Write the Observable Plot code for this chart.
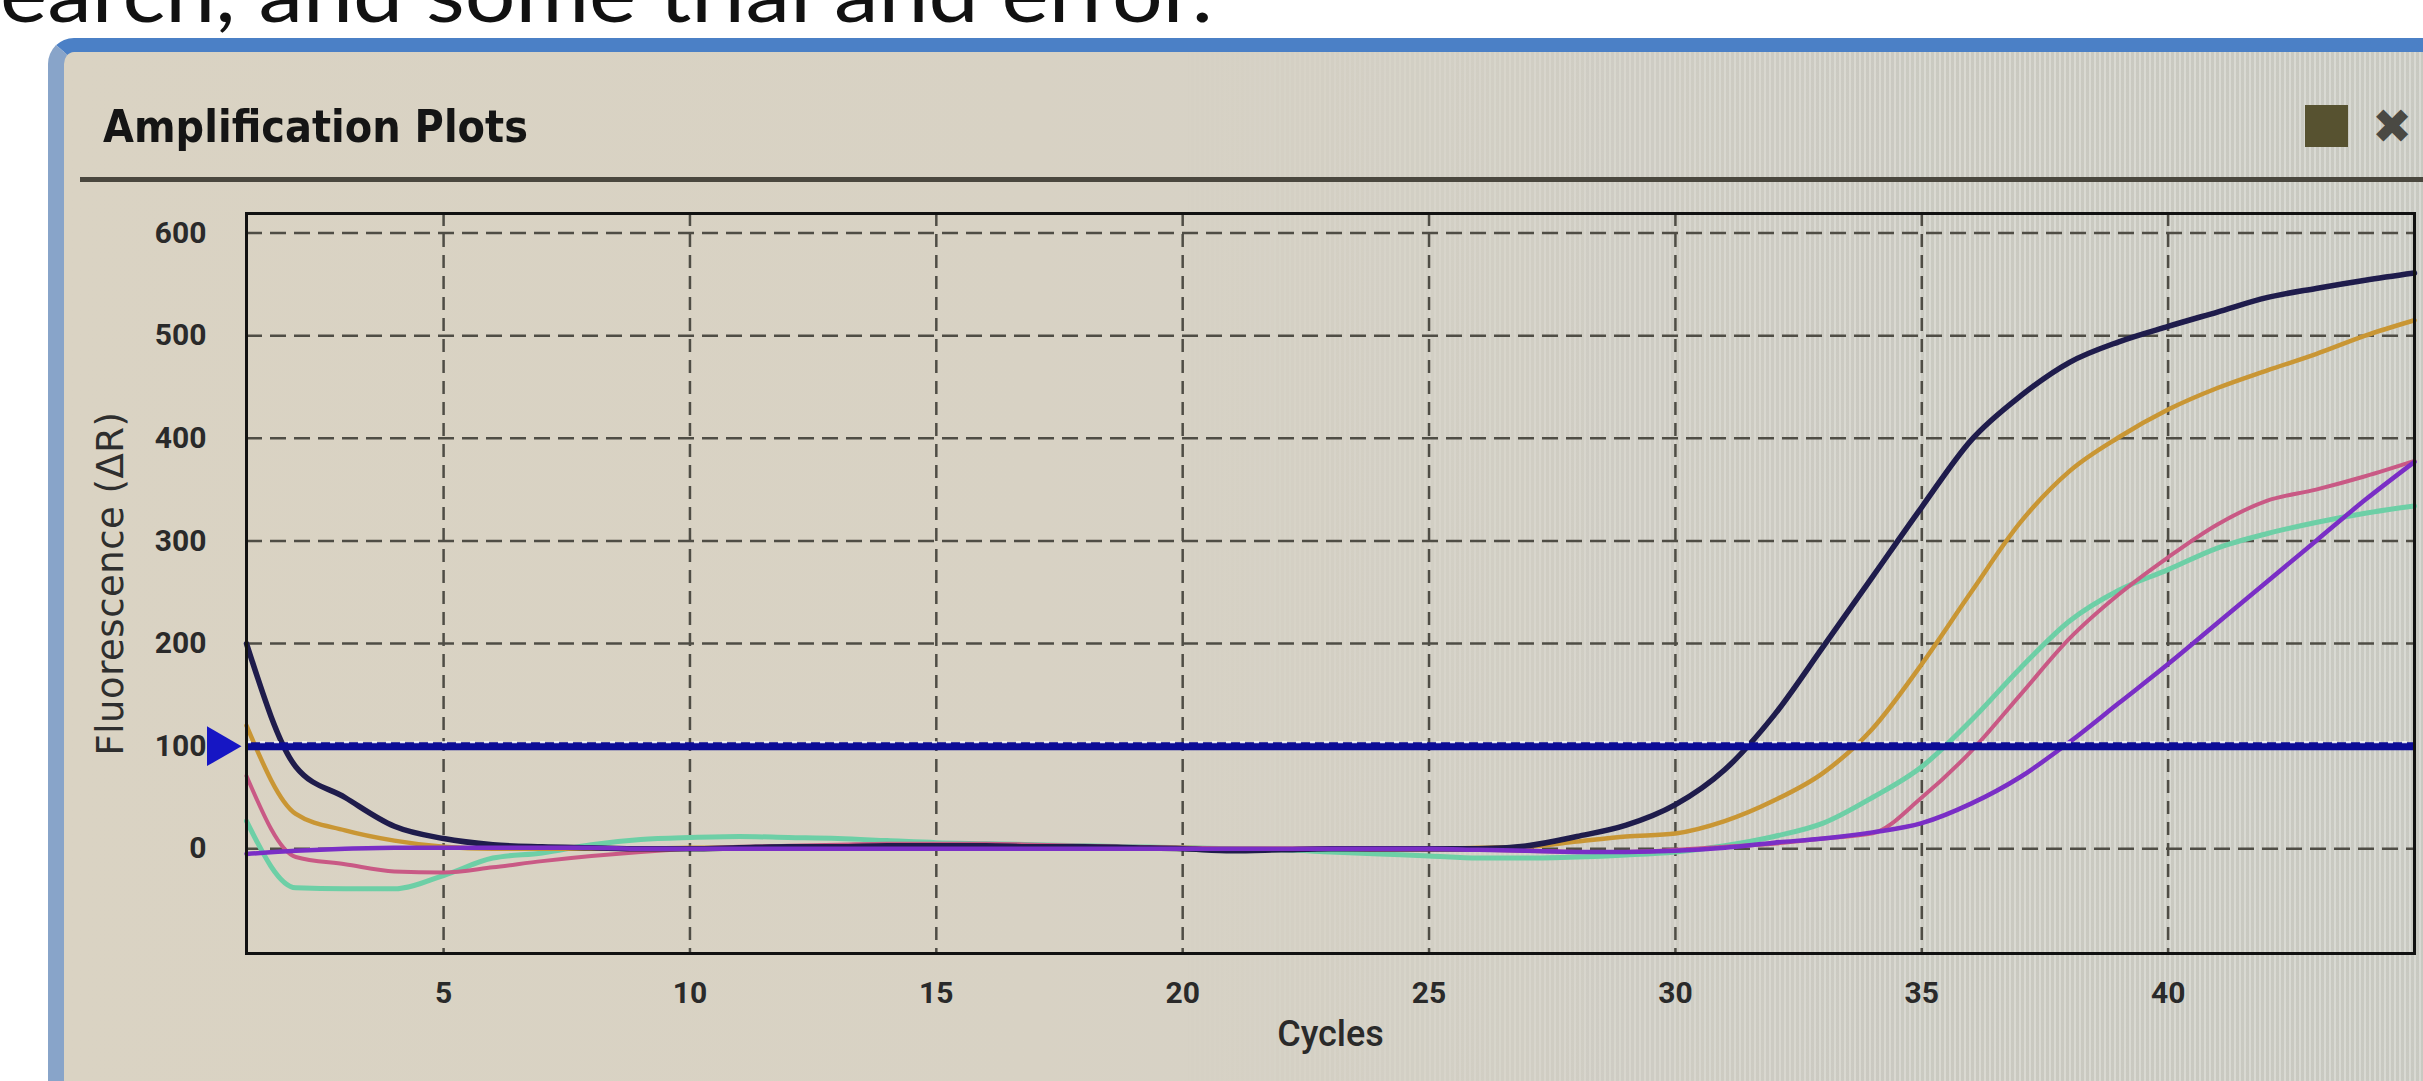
<!DOCTYPE html>
<html>
<head>
<meta charset="utf-8">
<script src="https://cdn.jsdelivr.net/npm/d3@7"></script>
<script src="https://cdn.jsdelivr.net/npm/@observablehq/plot@0.6"></script>
<style>
html,body{margin:0;padding:0;width:2423px;height:1081px;overflow:hidden;background:#fff;}
#page{position:relative;width:2423px;height:1081px;overflow:hidden;background:#fff;}
#slide{position:absolute;left:0px;top:-49px;font-family:Lato,"Open Sans",sans-serif;font-size:80px;line-height:80px;color:#111;white-space:nowrap;transform-origin:left top;}
#win{position:absolute;left:48px;top:38px;width:2450px;height:1100px;box-sizing:border-box;border-top:14px solid #4b80c6;border-left:16px solid #88a4c9;border-top-left-radius:26px;background:linear-gradient(90deg,#dad3c3 0%,#d8d2c4 40%,#d4d2c9 65%,#d1d2cb 100%);}
#stripes{position:absolute;left:64px;top:52px;width:2400px;height:1100px;background:repeating-linear-gradient(90deg,rgba(255,255,255,0.16) 0px,rgba(255,255,255,0.16) 2px,rgba(90,90,80,0.07) 2px,rgba(90,90,80,0.07) 5px);-webkit-mask-image:linear-gradient(90deg,transparent 0px,transparent 1100px,black 1900px);mask-image:linear-gradient(90deg,transparent 0px,transparent 1100px,black 1900px);}
#title{position:absolute;left:103px;top:105px;font-family:"DejaVu Sans",sans-serif;font-weight:bold;font-size:44px;line-height:44px;color:#151515;white-space:nowrap;transform-origin:left top;}
#sep{position:absolute;left:80px;top:177px;width:2400px;height:5px;background:#4a473e;}
#sq{position:absolute;left:2305px;top:105px;width:43px;height:42px;background:#575230;}
#xbtn{position:absolute;left:2372px;top:98px;font-family:"DejaVu Sans",sans-serif;font-weight:bold;font-size:48px;line-height:56px;color:#4a4943;}
#chart{position:absolute;left:0;top:0;}
#chart g[aria-label="x-axis label"] text{font-family:Roboto,sans-serif;font-size:36px;font-weight:500;}
#chart g[aria-label="y-axis label"] text{font-family:"DejaVu Sans",sans-serif;font-size:37px;font-weight:normal;letter-spacing:0.5px;fill:#2e2e2e;}
</style>
</head>
<body>
<div id="page">
  <div id="slide">earch, and some trial and error.</div>
  <div id="win"></div>
  <div id="stripes"></div>
  <div id="title">Amplification Plots</div>
  <div id="sep"></div>
  <div id="sq"></div>
  <div id="xbtn">✖</div>
  <div id="chart"></div>
</div>
<script>
// ---- data ----
const cycles = [1,2,3,4,5,6,7,8,9,10,11,12,13,14,15,16,17,18,19,20,21,22,23,24,25,26,27,28,29,30,31,32,33,34,35,36,37,38,39,40,41,42,43,44,45];
const xTicks = [5,10,15,20,25,30,35,40];
const yTicks = [0,100,200,300,400,500,600];
const threshold = 100;

const navy   = [200,80,50,22,10,4,2,1,0,0, 1,2,2,3,3,3,2,2,1,0, -2,-1,0,0,0,0,3,12,23,43, 77,130,197,265,333,398,441,474,494,509, 523,537,546,554,561];
const orange = [120,34,18,8,2,0,0,0,0,1, 1,2,2,2,2,2,2,1,1,1, 0,0,0,0,0,1,2,7,12,15, 27,47,74,117,180,250,318,368,401,428, 449,466,482,500,515];
const teal   = [27,-38,-39,-39,-26,-9,-4,4,9,11, 12,11,10,8,6,5,4,3,2,1, 0,-1,-3,-5,-7,-9,-9,-8,-6,-3, 3,12,25,50,80,125,176,222,252,272, 293,307,318,327,334];
const pink   = [71,-8,-15,-22,-23,-18,-12,-7,-3,0, 2,3,4,5,5,5,4,3,2,1, 0,0,0,-1,-1,-1,-2,-3,-3,-1, 2,5,10,15,50,95,150,205,248,284, 316,339,350,363,378];
const purple = [-5,-2,0,1,1,1,1,1,0,0, 0,0,0,0,0,0,0,0,0,0, 0,0,0,0,0,-1,-2,-3,-3,-2, 1,6,10,16,25,44,70,104,142,180, 220,260,300,340,377];

const seriesNames  = ["teal","orange","pink","navy","purple"];
const seriesValues = [teal, orange, pink, navy, purple];
const seriesColors = ["#6dcfa6","#c99634","#c95985","#1f1c4c","#7a2ec6"];
const seriesWidths = [5, 4.5, 4, 5.5, 4.5];

function rowsFor(vals){ return cycles.map((c,i)=>({cycle:c, value:vals[i]})); }

const lineMarks = seriesNames.map((n,k)=>Plot.line(rowsFor(seriesValues[k]), {
  x:"cycle", y:"value", stroke: seriesColors[k], strokeWidth: seriesWidths[k],
  strokeLinejoin:"round", strokeLinecap:"round", curve:"monotone-x"
}));

const W = 2423, H = 1081;
const chart = Plot.plot({
  width: W, height: H,
  marginLeft: 246, marginRight: 9, marginTop: 213, marginBottom: H - 953,
  style: "background: transparent; overflow: visible; font-family: Roboto, sans-serif; font-size: 30px; font-weight: bold; color: #2a2a2a;",
  x: {domain:[1,45], ticks: xTicks, tickSize:0, tickPadding:28, label:"Cycles", labelAnchor:"center", labelOffset:92, labelArrow:false},
  y: {domain:[-102,619], ticks: yTicks, tickSize:0, tickPadding:40, label:"Fluorescence (ΔR)", labelAnchor:"center", labelOffset:150, labelArrow:false},
  marks: [
    Plot.ruleX(xTicks, {stroke:"#4f4d45", strokeWidth:2.5, strokeDasharray:"13,8"}),
    Plot.ruleY(yTicks, {stroke:"#4f4d45", strokeWidth:2.5, strokeDasharray:"16,8"}),
    ...lineMarks,
    Plot.ruleY([threshold], {stroke:"#0c0c96", strokeWidth:8}),
    Plot.ruleY([threshold], {stroke:"#ffffff", strokeWidth:2, strokeDasharray:"5,9", dy:-4, strokeOpacity:0.85}),
    Plot.frame({stroke:"#111", strokeWidth:3}),
    Plot.dot([{cycle: cycles[0], value: threshold}], {x:"cycle", y:"value", symbol:"triangle2", rotate:90, r:19, fill:"#1616c4", stroke:"none", dx:-28})
  ]
});
document.getElementById("chart").appendChild(chart);

function fit(id, target){
  const el = document.getElementById(id);
  el.style.transform = "none";
  const w = el.getBoundingClientRect().width;
  if (w > 0) el.style.transform = `scaleX(${target/w})`;
}
function fitAll(){ fit("title", 425); fit("slide", 1213); }
fitAll();
if (document.fonts && document.fonts.ready) document.fonts.ready.then(fitAll);
</script>
</body>
</html>
